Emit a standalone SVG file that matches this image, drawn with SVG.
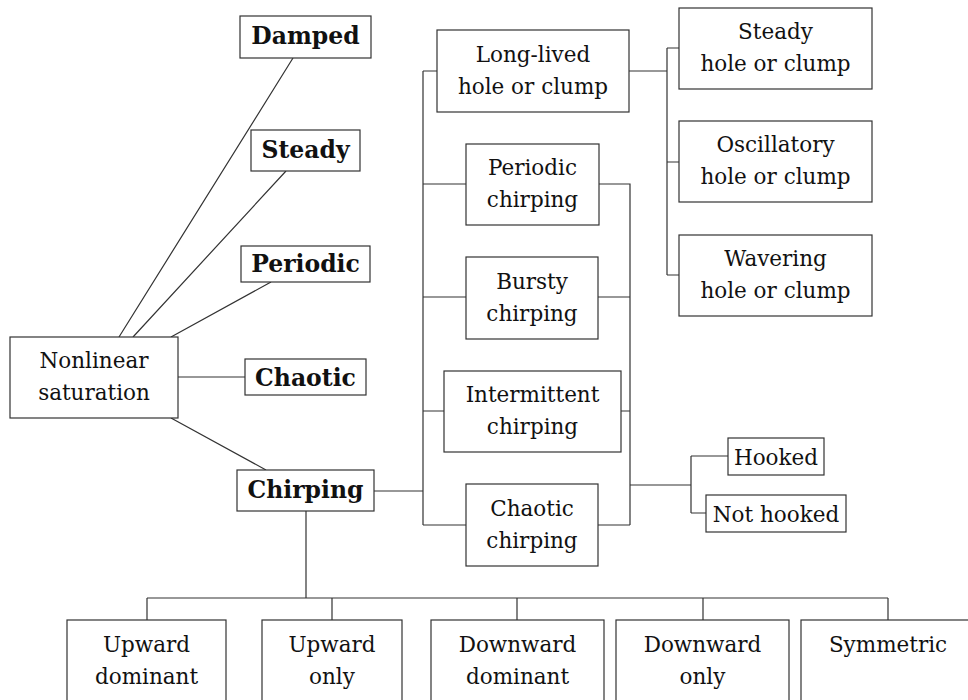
<svg xmlns="http://www.w3.org/2000/svg" width="968" height="700" viewBox="0 0 968 700">
<style>
.box{fill:#fff;stroke:#333;stroke-width:1.2}
.t{font-family:"DejaVu Serif",serif;font-size:21.5px;fill:#111;text-anchor:middle}
.b{font-family:"DejaVu Serif",serif;font-weight:bold;font-size:23.5px;fill:#111;text-anchor:middle}
.c{fill:none;stroke:#333;stroke-width:1.2}
</style>
<rect width="968" height="700" fill="#fff"/>
<g id="connectors">
<path class="c" d="M293,58 L119,337 M286,171 L133,337 M271,282 L171,337 M178,377 L245,377 M171,418 L266,470"/>
<path class="c" d="M374,491 H423 M423,71 V525 M423,71 H437 M423,184 H466 M423,297 H466 M423,411 H444 M423,525 H466"/>
<path class="c" d="M599,184 H630 V525 M598,297 H630 M621,411 H630 M598,525 H630 M630,485 H691 M691,456 V513 M691,456 H728 M691,513 H706"/>
<path class="c" d="M629,71 H667 M667,48 V275 M667,48 H679 M667,162 H679 M667,275 H679"/>
<path class="c" d="M306,511 V598 M147,598 H888 M147,598 V620 M332,598 V620 M517,598 V620 M703,598 V620 M888,598 V620"/>
</g>
<g id="nonlinear"><rect class="box" x="10" y="337" width="168" height="81"/><text class="t" x="94" y="368">Nonlinear</text><text class="t" x="94" y="400">saturation</text></g>
<g id="damped"><rect class="box" x="240" y="16" width="131" height="42"/><text class="b" x="305.5" y="44">Damped</text></g>
<g id="steady"><rect class="box" x="251" y="130" width="109" height="41"/><text class="b" x="305.5" y="158">Steady</text></g>
<g id="periodic"><rect class="box" x="241" y="246" width="129" height="36"/><text class="b" x="305.5" y="272">Periodic</text></g>
<g id="chaotic"><rect class="box" x="245" y="359" width="121" height="36"/><text class="b" x="305.5" y="386">Chaotic</text></g>
<g id="chirping"><rect class="box" x="237" y="470" width="137" height="41"/><text class="b" x="305.5" y="498">Chirping</text></g>
<g id="longlived"><rect class="box" x="437" y="30" width="192" height="82"/><text class="t" x="533" y="62">Long-lived</text><text class="t" x="533" y="94">hole or clump</text></g>
<g id="periodic-chirping"><rect class="box" x="466" y="144" width="133" height="81"/><text class="t" x="532.5" y="175">Periodic</text><text class="t" x="532.5" y="207">chirping</text></g>
<g id="bursty-chirping"><rect class="box" x="466" y="257" width="132" height="82"/><text class="t" x="532" y="289">Bursty</text><text class="t" x="532" y="321">chirping</text></g>
<g id="intermittent-chirping"><rect class="box" x="444" y="371" width="177" height="81"/><text class="t" x="532.5" y="402">Intermittent</text><text class="t" x="532.5" y="434">chirping</text></g>
<g id="chaotic-chirping"><rect class="box" x="466" y="484" width="132" height="82"/><text class="t" x="532" y="516">Chaotic</text><text class="t" x="532" y="548">chirping</text></g>
<g id="steady-hole"><rect class="box" x="679" y="8" width="193" height="81"/><text class="t" x="775.5" y="39">Steady</text><text class="t" x="775.5" y="71">hole or clump</text></g>
<g id="oscillatory-hole"><rect class="box" x="679" y="121" width="193" height="81"/><text class="t" x="775.5" y="152">Oscillatory</text><text class="t" x="775.5" y="184">hole or clump</text></g>
<g id="wavering-hole"><rect class="box" x="679" y="235" width="193" height="81"/><text class="t" x="775.5" y="266">Wavering</text><text class="t" x="775.5" y="298">hole or clump</text></g>
<g id="hooked"><rect class="box" x="728" y="438" width="96" height="37"/><text class="t" x="776" y="465">Hooked</text></g>
<g id="not-hooked"><rect class="box" x="706" y="495" width="140" height="37"/><text class="t" x="776" y="522">Not hooked</text></g>
<g id="upward-dominant"><rect class="box" x="67" y="620" width="159" height="100"/><text class="t" x="146.5" y="652">Upward</text><text class="t" x="146.5" y="684">dominant</text></g>
<g id="upward-only"><rect class="box" x="262" y="620" width="140" height="100"/><text class="t" x="332" y="652">Upward</text><text class="t" x="332" y="684">only</text></g>
<g id="downward-dominant"><rect class="box" x="431" y="620" width="173" height="100"/><text class="t" x="517.5" y="652">Downward</text><text class="t" x="517.5" y="684">dominant</text></g>
<g id="downward-only"><rect class="box" x="616" y="620" width="173" height="100"/><text class="t" x="702.5" y="652">Downward</text><text class="t" x="702.5" y="684">only</text></g>
<g id="symmetric"><rect class="box" x="801" y="620" width="174" height="100"/><text class="t" x="888" y="652">Symmetric</text></g>
</svg>
